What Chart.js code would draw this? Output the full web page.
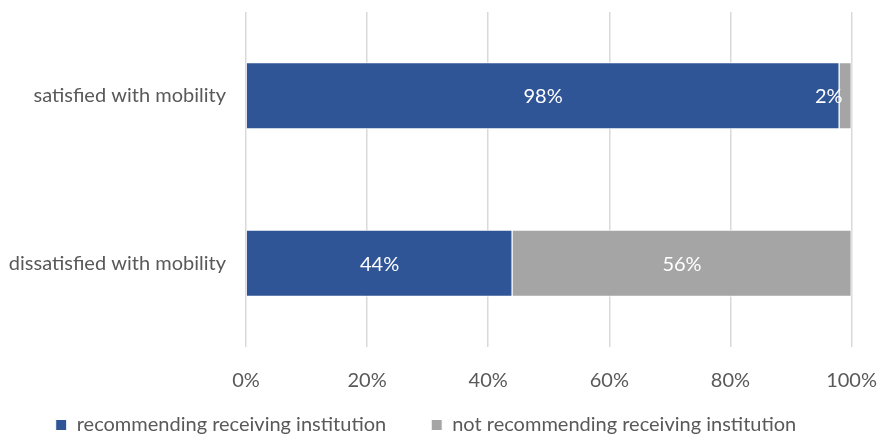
<!DOCTYPE html>
<html>
<head>
<meta charset="utf-8">
<script src="https://cdn.jsdelivr.net/npm/chart.js@4"></script>
<style>
  html, body { margin: 0; padding: 0; background: #fff; }
</style>
</head>
<body>
<canvas id="grafico" width="877" height="440"></canvas>
<script>
// categorias e valores (%)
const categorias = ['satisfied with mobility', 'dissatisfied with mobility'];
const recomendando = [98, 44];
const naoRecomendando = [2, 56];
const ticksX = [0, 20, 40, 60, 80, 100];

const FONTE = 'Lato, "Open Sans", sans-serif';
const TAM = 20;

// rótulos brancos dentro das barras
const rotulos = {
  id: 'rotulos',
  afterDatasetsDraw(chart) {
    const ctx = chart.ctx;
    const area = chart.chartArea;
    ctx.save();
    ctx.font = TAM + 'px ' + FONTE;
    ctx.fillStyle = '#ffffff';
    ctx.textBaseline = 'middle';
    ctx.textAlign = 'center';
    chart.data.datasets.forEach((ds, i) => {
      chart.getDatasetMeta(i).data.forEach((bar, j) => {
        const txt = ds.data[j] + '%';
        const w = ctx.measureText(txt).width;
        let x = (bar.x + bar.base) / 2;
        if (x + w / 2 > area.right - 9) x = area.right - 9 - w / 2;
        ctx.fillText(txt, x, bar.y + 1);
      });
    });
    ctx.restore();
  }
};

// legenda: altura menor no layout, mas mantém o espaçamento horizontal
const ajusteLegenda = {
  id: 'ajusteLegenda',
  beforeInit(chart) {
    const fitOriginal = chart.legend.fit;
    chart.legend.fit = function () {
      fitOriginal.call(this);
      this.height = 44;
    };
  },
  afterLayout(chart) {
    // sobe o topo da caixa para compensar o padding interno
    chart.legend.top -= 26;
    chart.legend.height = chart.legend.bottom - chart.legend.top;
  }
};

new Chart(document.getElementById('grafico'), {
  type: 'bar',
  data: {
    labels: categorias,
    datasets: [
      {
        label: 'recommending receiving institution',
        data: recomendando,
        backgroundColor: '#2F5597',
        borderColor: '#ffffff',
        borderWidth: 1,
        categoryPercentage: 0.4,
        barPercentage: 1
      },
      {
        label: 'not recommending receiving institution',
        data: naoRecomendando,
        backgroundColor: '#A5A5A5',
        borderColor: '#ffffff',
        borderWidth: 1,
        categoryPercentage: 0.4,
        barPercentage: 1
      }
    ]
  },
  options: {
    indexAxis: 'y',
    responsive: false,
    animation: false,
    layout: { padding: { left: 0, right: 25, top: 10, bottom: 0 } },
    plugins: {
      legend: {
        position: 'bottom',
        labels: {
          color: '#595959',
          font: { family: FONTE, size: TAM },
          boxWidth: 11,
          boxHeight: 11,
          padding: 45
        }
      },
      tooltip: { enabled: false }
    },
    scales: {
      x: {
        stacked: true,
        min: 0,
        max: 100,
        afterBuildTicks(scale) { scale.ticks = ticksX.map(v => ({ value: v })); },
        afterFit(scale) { scale.height = 49; },
        border: { display: false },
        grid: { color: '#D9D9D9', lineWidth: 1.5, drawTicks: true, tickLength: 22, tickColor: 'rgba(0,0,0,0)' },
        ticks: {
          color: '#595959',
          font: { family: FONTE, size: TAM },
          padding: 0,
          maxRotation: 0,
          callback: v => v + '%'
        }
      },
      y: {
        stacked: true,
        afterFit(scale) { scale.width = 246; },
        border: { display: false },
        grid: { display: false, drawTicks: true, tickLength: 20 },
        ticks: {
          color: '#595959',
          font: { family: FONTE, size: TAM },
          padding: 0
        }
      }
    }
  },
  plugins: [rotulos, ajusteLegenda]
});
</script>
</body>
</html>
